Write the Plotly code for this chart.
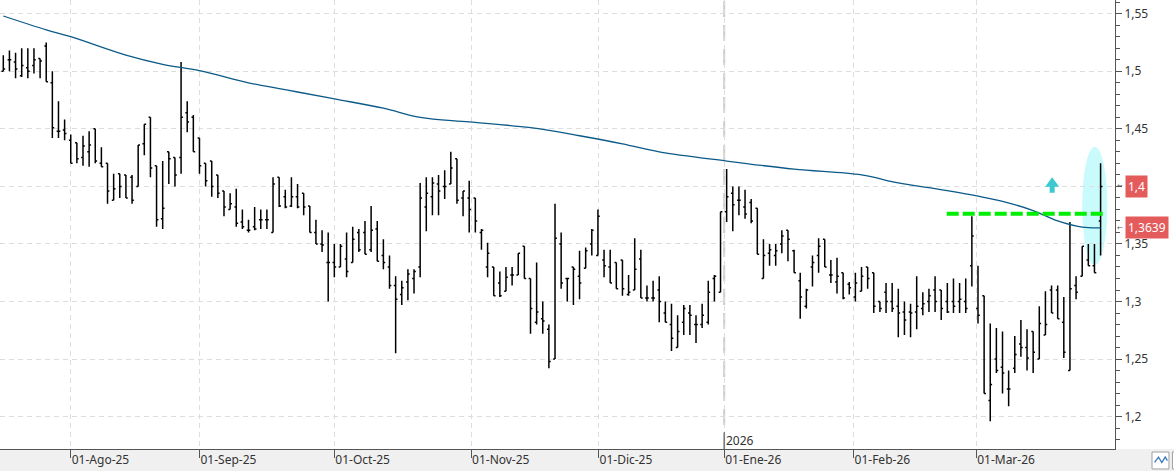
import plotly.graph_objects as go

# ---------------- data ----------------
opens = [1.500,1.510,1.508,1.496,1.503,1.505,1.511,1.522,1.490,1.448,
         1.449,1.440,1.438,1.425,1.430,1.450,1.420,1.420,1.388,1.411,
         1.410,1.408,1.400,1.437,1.460,1.418,1.372,1.430,1.425,1.425,
         1.464,1.460,1.442,1.420,1.422,1.410,1.396,1.380,1.382,1.369,
         1.362,1.365,1.371,1.371,1.360,1.408,1.391,1.383,1.391,1.394,
         1.383,1.360,1.350,1.334,1.334,1.330,1.337,1.334,1.360,1.360,
         1.345,1.363,1.340,1.330,1.314,1.306,1.317,1.320,1.330,1.382,
         1.391,1.402,1.400,1.402,1.424,1.390,1.390,1.390,1.360,1.330,
         1.330,1.316,1.309,1.323,1.323,1.348,1.320,1.282,1.285,1.276,
         1.250,1.350,1.320,1.330,1.322,1.329,1.350,1.340,1.336,1.330,
         1.334,1.336,1.306,1.310,1.337,1.303,1.303,1.310,1.290,1.280,
         1.260,1.282,1.290,1.280,1.280,1.282,1.320,1.308,1.378,1.394,
         1.388,1.382,1.386,1.381,1.320,1.342,1.340,1.350,1.362,1.344,
         1.318,1.296,1.330,1.340,1.354,1.323,1.317,1.325,1.315,1.304,
         1.309,1.330,1.325,1.300,1.308,1.300,1.296,1.291,1.291,1.291,
         1.294,1.300,1.310,1.310,1.300,1.300,1.300,1.300,1.331,1.294,
         1.305,1.214,1.250,1.243,1.224,1.242,1.263,1.260,1.274,1.250,
         1.271,1.310,1.310,1.282,1.240,1.314,1.322,1.336,1.331,1.370]
highs = [1.514,1.518,1.516,1.520,1.520,1.520,1.511,1.525,1.500,1.474,
         1.458,1.445,1.438,1.444,1.448,1.450,1.434,1.420,1.411,1.411,
         1.410,1.410,1.436,1.454,1.460,1.418,1.422,1.430,1.425,1.508,
         1.474,1.462,1.442,1.420,1.422,1.410,1.396,1.394,1.398,1.380,
         1.371,1.382,1.380,1.380,1.408,1.408,1.397,1.408,1.402,1.394,
         1.383,1.371,1.362,1.360,1.350,1.350,1.360,1.365,1.363,1.370,
         1.383,1.370,1.354,1.340,1.322,1.318,1.328,1.328,1.403,1.408,
         1.408,1.410,1.414,1.430,1.424,1.396,1.405,1.390,1.363,1.351,
         1.330,1.326,1.330,1.330,1.342,1.348,1.320,1.334,1.300,1.280,
         1.385,1.360,1.320,1.330,1.344,1.347,1.363,1.380,1.345,1.345,
         1.334,1.336,1.323,1.355,1.345,1.314,1.318,1.322,1.300,1.298,
         1.288,1.297,1.297,1.288,1.298,1.318,1.323,1.378,1.415,1.400,
         1.400,1.397,1.389,1.381,1.354,1.350,1.350,1.362,1.362,1.345,
         1.325,1.311,1.340,1.355,1.354,1.336,1.338,1.325,1.317,1.325,
         1.330,1.330,1.325,1.300,1.316,1.316,1.311,1.300,1.298,1.322,
         1.308,1.311,1.322,1.310,1.316,1.320,1.316,1.320,1.374,1.331,
         1.305,1.281,1.277,1.274,1.240,1.270,1.284,1.276,1.274,1.296,
         1.309,1.314,1.314,1.304,1.369,1.322,1.348,1.350,1.350,1.420]
lows = [1.500,1.500,1.494,1.495,1.494,1.498,1.494,1.491,1.442,1.442,
        1.440,1.420,1.420,1.418,1.417,1.420,1.417,1.385,1.388,1.390,
        1.390,1.385,1.400,1.427,1.408,1.365,1.363,1.402,1.400,1.411,
        1.447,1.430,1.411,1.400,1.391,1.390,1.374,1.380,1.365,1.363,
        1.360,1.362,1.363,1.363,1.360,1.382,1.381,1.382,1.381,1.375,
        1.360,1.350,1.343,1.300,1.321,1.330,1.321,1.334,1.343,1.341,
        1.343,1.335,1.328,1.311,1.255,1.297,1.301,1.307,1.321,1.361,
        1.375,1.375,1.389,1.402,1.385,1.374,1.360,1.360,1.345,1.321,
        1.305,1.304,1.309,1.314,1.323,1.320,1.272,1.280,1.272,1.242,
        1.250,1.311,1.300,1.297,1.302,1.329,1.340,1.340,1.321,1.316,
        1.311,1.305,1.305,1.310,1.303,1.300,1.300,1.282,1.282,1.257,
        1.260,1.271,1.271,1.264,1.277,1.280,1.300,1.308,1.369,1.361,
        1.375,1.372,1.368,1.341,1.320,1.331,1.331,1.342,1.335,1.325,
        1.285,1.294,1.313,1.325,1.330,1.316,1.307,1.302,1.306,1.300,
        1.309,1.311,1.290,1.291,1.290,1.291,1.269,1.271,1.269,1.276,
        1.288,1.291,1.291,1.284,1.290,1.290,1.290,1.290,1.313,1.281,
        1.220,1.196,1.238,1.220,1.209,1.238,1.252,1.240,1.238,1.250,
        1.271,1.290,1.285,1.251,1.240,1.302,1.322,1.331,1.325,1.340]
closes = [1.502,1.510,1.502,1.505,1.500,1.510,1.509,1.491,1.451,1.448,
          1.446,1.420,1.424,1.435,1.436,1.422,1.417,1.396,1.398,1.400,
          1.390,1.388,1.436,1.454,1.416,1.371,1.381,1.424,1.410,1.460,
          1.456,1.430,1.418,1.405,1.400,1.394,1.382,1.385,1.368,1.365,
          1.362,1.363,1.371,1.371,1.402,1.383,1.382,1.391,1.382,1.382,
          1.360,1.350,1.349,1.334,1.330,1.348,1.326,1.354,1.345,1.341,
          1.362,1.335,1.334,1.314,1.302,1.312,1.324,1.326,1.390,1.394,
          1.403,1.396,1.400,1.416,1.388,1.396,1.380,1.370,1.362,1.342,
          1.305,1.305,1.321,1.323,1.342,1.320,1.294,1.291,1.283,1.248,
          1.355,1.316,1.320,1.328,1.316,1.344,1.362,1.374,1.331,1.316,
          1.311,1.311,1.308,1.328,1.303,1.303,1.303,1.300,1.282,1.268,
          1.274,1.294,1.288,1.280,1.288,1.308,1.322,1.378,1.391,1.384,
          1.388,1.376,1.370,1.341,1.340,1.345,1.344,1.357,1.354,1.325,
          1.304,1.310,1.334,1.348,1.330,1.323,1.322,1.303,1.312,1.316,
          1.322,1.320,1.296,1.294,1.300,1.294,1.290,1.284,1.290,1.296,
          1.298,1.305,1.300,1.294,1.291,1.296,1.302,1.294,1.357,1.288,
          1.220,1.228,1.240,1.238,1.224,1.254,1.260,1.251,1.256,1.281,
          1.280,1.290,1.285,1.256,1.311,1.308,1.348,1.331,1.325,1.400]

ma_idx = [0, 7, 11, 20, 26, 32, 40, 45, 48, 54, 62, 68, 76, 86, 94, 101, 107,
          118, 129, 140, 146, 152, 159, 163, 168, 172, 176, 179]
ma_val = [1.548, 1.536, 1.530, 1.514, 1.506, 1.5005, 1.490, 1.485, 1.482, 1.476,
          1.468, 1.460, 1.456, 1.451, 1.444, 1.437, 1.430, 1.422, 1.415, 1.410,
          1.403, 1.398, 1.3915, 1.387, 1.379, 1.370, 1.3646, 1.3639]

month_pos = [11, 32, 54, 76.3, 97.1, 117.6, 138.7, 158.7]
month_labels = ["01-Ago-25", "01-Sep-25", "01-Oct-25", "01-Nov-25",
                "01-Dic-25", "01-Ene-26", "01-Feb-26", "01-Mar-26"]

y_ticks = [1.2, 1.25, 1.3, 1.35, 1.4, 1.45, 1.5, 1.55]
# the 1,4 label is covered by the red last-price tag in the reference
y_labels = ["1,2", "1,25", "1,3", "1,35", "", "1,45", "1,5", "1,55"]

resistance = 1.3763
last_price = 1.4
ma_last = 1.3639

x = list(range(len(opens)))

# ---------------- figure ----------------
FONT = "Noto Sans"
fig = go.Figure()

fig.add_trace(go.Ohlc(
    x=x, open=opens, high=highs, low=lows, close=closes,
    increasing=dict(line=dict(color="black", width=1.5)),
    decreasing=dict(line=dict(color="black", width=1.5)),
    tickwidth=0.3, showlegend=False, hoverinfo="skip"))

fig.add_trace(go.Scatter(
    x=ma_idx, y=ma_val, mode="lines", line=dict(color="#0b5a87", width=1.3),
    line_shape="spline", showlegend=False, hoverinfo="skip"))

XR = [-0.54, 181.35]
YR = [1.1719, 1.5619]

shapes = []
# gray bottom band
shapes.append(dict(type="rect", xref="paper", yref="paper", x0=-0.01, x1=1.06,
                   y0=-0.06, y1=0, fillcolor="#f0f0f0", line=dict(width=0), layer="below"))
# highlight ellipse around last bars
shapes.append(dict(type="circle", xref="x", yref="y", x0=176.0, x1=180.1,
                   y0=1.3317, y1=1.4345, fillcolor="#c9fbfd",
                   line=dict(width=0), layer="below"))
# year separator
shapes.append(dict(type="line", xref="x", yref="paper", x0=month_pos[5], x1=month_pos[5],
                   y0=0, y1=1, line=dict(color="#cccccc", width=2, dash="16px,8px"),
                   layer="below"))
shapes.append(dict(type="line", xref="x", yref="paper", x0=month_pos[5], x1=month_pos[5],
                   y0=0, y1=0.038, line=dict(color="#555555", width=1)))
# resistance dashed line
shapes.append(dict(type="line", xref="x", yref="y", x0=153.9, x1=179.4,
                   y0=resistance, y1=resistance,
                   line=dict(color="#00ee00", width=4, dash="12px,4px")))
# up arrow
shapes.append(dict(type="path", xref="x", yref="y", xsizemode="pixel", ysizemode="pixel",
                   xanchor=171.1, yanchor=1.3997,
                   path="M -7,0 L 0,9.5 L 7,0 L 2.5,0 L 2.5,-6 L -2.5,-6 L -2.5,0 Z",
                   fillcolor="#3cc9cf", line=dict(width=0)))
# bottom-right icon
shapes.append(dict(type="rect", xref="paper", yref="paper", x0=1.0332, x1=1.0484,
                   y0=-0.0445, y1=-0.0067, fillcolor="white",
                   line=dict(color="#a0a0a0", width=1)))
shapes.append(dict(type="path", xref="paper", yref="paper",
                   path="M 1.0355,-0.030 L 1.0390,-0.018 L 1.0420,-0.030 L 1.0450,-0.018 L 1.0470,-0.026",
                   line=dict(color="#3a78c0", width=1.3)))
shapes.append(dict(type="rect", xref="paper", yref="paper", x0=1.0515, x1=1.07,
                   y0=-0.0445, y1=-0.0067, fillcolor="white",
                   line=dict(color="#a0a0a0", width=1)))

annotations = []
annotations.append(dict(text="2026", xref="x", yref="paper", x=month_pos[5], y=0.018,
                        xanchor="left", yanchor="middle", showarrow=False, xshift=0,
                        font=dict(family=FONT, size=12, color="#333333")))
for val, txt in [(last_price, "1,4"), (ma_last, "1,3639")]:
    annotations.append(dict(text=txt, xref="paper", yref="y", x=1125 / 1115, y=val,
                            xanchor="left", yanchor="middle", showarrow=False,
                            bgcolor="#e35b5b", borderpad=2,
                            font=dict(family=FONT, size=12, color="white")))
    annotations.append(dict(text="←", xref="paper", yref="y", x=1115.5 / 1115, y=val,
                            xanchor="left", yanchor="middle", showarrow=False,
                            borderpad=0,
                            font=dict(family="DejaVu Sans", size=7, color="#555555")))

fig.update_layout(
    width=1174, height=471,
    margin=dict(l=0, r=59, t=0, b=22, pad=0),
    paper_bgcolor="white", plot_bgcolor="white",
    separators=",.",
    shapes=shapes, annotations=annotations,
    font=dict(family=FONT, size=12, color="#333333"),
    xaxis=dict(range=XR, rangeslider=dict(visible=False), showgrid=True,
               gridcolor="#dddddd", griddash="5px,4px", gridwidth=1,
               tickmode="array", tickvals=month_pos, ticktext=month_labels,
               ticks="outside", ticklen=8, tickcolor="#555555", tickwidth=1,
               ticklabelposition="outside right",
               showline=True, linecolor="#555555", linewidth=1, zeroline=False,
               tickfont=dict(family=FONT, size=12, color="#333333")),
    yaxis=dict(range=YR, side="right", showgrid=True, gridcolor="#dddddd",
               griddash="5px,4px", gridwidth=1,
               tickmode="array", tickvals=y_ticks, ticktext=y_labels,
               ticks="outside", ticklen=6, tickcolor="#555555",
               minor=dict(tick0=1.2, dtick=0.01, ticks="outside", ticklen=4,
                          tickcolor="#555555", showgrid=False),
               showline=True, linecolor="#555555", linewidth=1, zeroline=False,
               tickfont=dict(family=FONT, size=12, color="#333333")),
)

fig.write_html("out.html")
